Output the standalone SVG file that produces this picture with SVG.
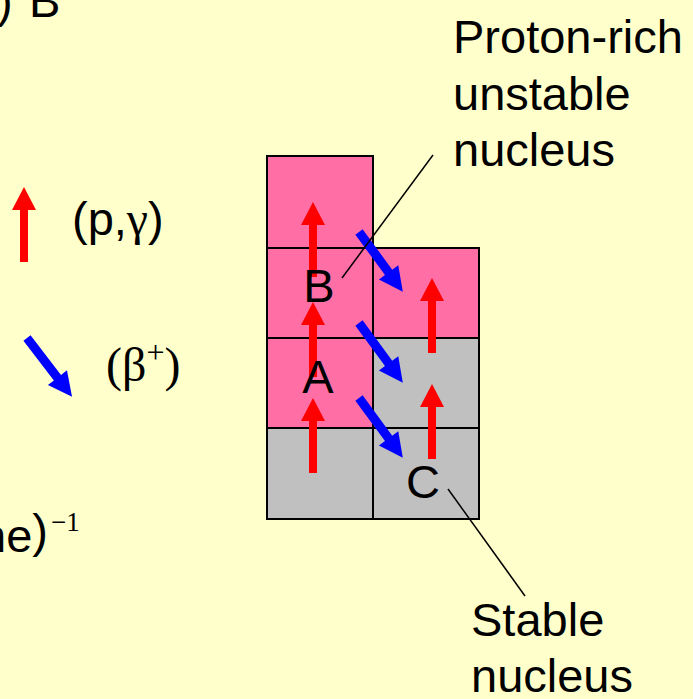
<svg xmlns="http://www.w3.org/2000/svg" width="693" height="699" viewBox="0 0 693 699">
<style>
.t{font-family:"Liberation Sans",Arial,sans-serif;font-size:47px;fill:#000}
.s{font-family:"Liberation Serif","Times New Roman",serif;fill:#000}
.pink{fill:#FF6EA5;stroke:#000;stroke-width:2}
.gray{fill:#C0C0C0;stroke:#000;stroke-width:2}
.lead{stroke:#000;stroke-width:1.5;fill:none}
.red{fill:#FF0000}
.blue{fill:#0000FF}
</style>
<defs>
<path id="up" d="M0,0 L12,23 L4,23 L4,75 L-4,75 L-4,23 L-12,23 Z"/>
<path id="diag" d="M0,-4.5 L50,-4.5 L50,-12 L74,0 L50,12 L50,4.5 L0,4.5 Z"/>
</defs>
<rect width="693" height="699" fill="#FFFFCC"/>
<g id="cutoff-text">
<text class="t" x="-3" y="17">)</text>
<text class="t" x="29" y="17">B</text>
<text class="t" x="-20" y="552">ne<tspan dy="-5">)</tspan><tspan font-family="Liberation Serif,serif" font-size="27" dx="3" dy="-16">−1</tspan></text>
</g>
<g id="legend-pg">
<use href="#up" class="red" x="24" y="187"/>
<text class="t" x="72" y="235">(p,<tspan font-family="Liberation Serif,serif" font-size="48">γ</tspan>)</text>
</g>
<g id="legend-beta">
<use href="#diag" class="blue" transform="translate(27,338) rotate(52.5)"/>
<text class="s" x="106" y="381" font-size="48">(β<tspan font-size="32" dy="-18">+</tspan><tspan dy="18">)</tspan></text>
</g>
<g id="grid">
<rect id="cell-l1" class="pink" x="267" y="156" width="106" height="92"/>
<rect id="cell-l2" class="pink" x="267" y="248" width="106" height="90"/>
<rect id="cell-l3" class="pink" x="267" y="338" width="106" height="90"/>
<rect id="cell-l4" class="gray" x="267" y="428" width="106" height="91"/>
<rect id="cell-r2" class="pink" x="373" y="248" width="106" height="90"/>
<rect id="cell-r3" class="gray" x="373" y="338" width="106" height="90"/>
<rect id="cell-r4" class="gray" x="373" y="428" width="106" height="91"/>
</g>
<g id="connectors">
<use href="#up" class="red" x="313" y="202"/>
<use href="#up" class="red" x="313" y="302"/>
<use href="#up" class="red" x="313" y="398"/>
<use href="#up" class="red" x="432" y="278"/>
<use href="#up" class="red" x="432" y="384"/>
<use href="#diag" class="blue" transform="translate(359,232) rotate(53.7)"/>
<use href="#diag" class="blue" transform="translate(359,323) rotate(53.7)"/>
<use href="#diag" class="blue" transform="translate(359,398) rotate(53.7)"/>
<line class="lead" x1="342" y1="278" x2="433" y2="155"/>
<line class="lead" x1="448" y1="489" x2="525" y2="596"/>
</g>
<g id="node-B"><text class="t" x="319" y="302" text-anchor="middle">B</text></g>
<g id="node-A"><text class="t" x="318" y="393" text-anchor="middle">A</text></g>
<g id="node-C"><text class="t" x="423" y="498" text-anchor="middle">C</text></g>
<g id="label-proton">
<text class="t" x="453" y="53">Proton-rich</text>
<text class="t" x="453" y="110">unstable</text>
<text class="t" x="453" y="166">nucleus</text>
</g>
<g id="label-stable">
<text class="t" x="471" y="636">Stable</text>
<text class="t" x="471" y="692">nucleus</text>
</g>
</svg>
